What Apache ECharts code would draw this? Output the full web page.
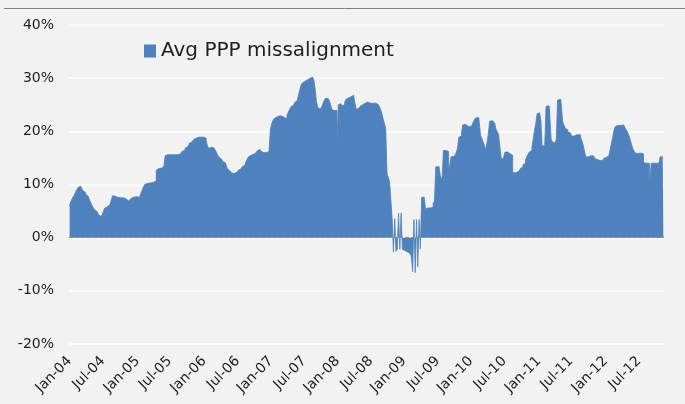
<!DOCTYPE html>
<html>
<head>
<meta charset="utf-8">
<script src="https://cdn.jsdelivr.net/npm/echarts@6/dist/echarts.min.js"></script>
<style>
  html, body { margin: 0; padding: 0; background: #f2f2f2; }
  #chart { width: 685px; height: 404px; }
</style>
</head>
<body>
<div id="chart"></div>
<script>
// Weekly average PPP misalignment (%), one value per Friday starting 2 Jan 2004
const SERIES_NAME = 'Avg PPP missalignment';
const FIRST_WEEK = Date.UTC(2004, 0, 2);

const w2004 = [6.0, 6.5, 7.1, 7.6, 8.0, 8.5, 9.0, 9.4, 9.7, 9.7, 9.2, 8.8, 8.5, 8.1, 7.8, 7.5, 7.1, 6.6, 6.0, 5.6,
  5.2, 4.9, 4.6, 4.3, 4.0, 3.8, 4.4, 5.1, 5.6, 5.8, 6.0, 6.1, 6.3, 6.4, 7.9, 8.0, 7.8, 7.6, 7.5, 7.5,
  7.5, 7.5, 7.5, 7.4, 7.3, 7.0, 6.9, 7.0, 7.3, 7.6, 7.7, 7.7, 7.7];
const w2005 = [7.6, 7.6, 7.5, 8.3, 8.9, 9.5, 10.0, 10.2, 10.3, 10.3, 10.3, 10.4, 10.4, 10.5, 10.7, 12.7, 13.0, 13.1, 13.1, 13.1,
  13.2, 13.5, 15.4, 15.6, 15.6, 15.6, 15.6, 15.6, 15.6, 15.6, 15.6, 15.6, 15.7, 15.8, 16.0, 16.2, 16.4, 16.6, 16.9, 17.2,
  17.5, 17.8, 18.0, 18.2, 18.4, 18.7, 18.9, 18.9, 18.9, 18.9, 18.9, 18.9];
const w2006 = [18.9, 18.7, 18.2, 17.2, 16.8, 17.0, 17.2, 17.1, 16.9, 16.5, 16.0, 15.5, 15.1, 14.8, 14.5, 14.3, 14.1, 13.8, 13.3, 12.8,
  12.5, 12.3, 12.1, 12.0, 12.1, 12.3, 12.5, 12.7, 12.9, 13.1, 13.3, 13.6, 13.9, 14.3, 14.8, 15.2, 15.5, 15.6, 15.7, 15.8,
  16.0, 16.2, 16.4, 16.6, 16.4, 16.2, 16.0, 15.9, 15.9, 16.0, 16.2, 16.2];
const w2007 = [20.3, 21.4, 22.0, 22.4, 22.7, 22.9, 22.9, 23.0, 22.9, 22.9, 22.8, 22.6, 22.4, 23.0, 23.6, 24.1, 24.6, 24.9, 25.2, 25.4,
  25.5, 25.8, 26.9, 27.8, 28.7, 29.1, 29.4, 29.5, 29.7, 29.8, 30.0, 30.2, 30.3, 30.2, 29.6, 27.8, 25.6, 24.5, 24.2, 24.3,
  24.6, 25.2, 25.8, 26.2, 26.3, 26.2, 25.8, 25.0, 24.1, 23.9, 23.9, 23.9];
const w2008 = [18.0, 25.0, 25.1, 25.2, 24.8, 25.0, 25.5, 26.0, 26.3, 26.3, 26.4, 26.5, 26.8, 26.5, 25.2, 24.2, 24.1, 24.3, 24.7, 25.0,
  25.1, 25.3, 25.4, 25.5, 25.5, 25.4, 25.3, 25.3, 25.3, 25.4, 25.3, 25.1, 25.0, 24.7, 24.1, 23.3, 22.3, 21.5, 20.5, 12.0,
  11.3, 10.6, 10.5, 3.6, -2.7, 3.6, -2.6, -2.2, 4.6, -2.2, 4.6, -2.2];
const w2009 = [-2.3, -2.4, -2.5, -2.7, -3.0, -3.2, -3.6, -6.4, 3.4, -6.6, 3.4, -5.5, 3.4, -2.1, 7.6, 7.6, 7.5, 5.4, 5.6, 5.6,
  5.6, 5.6, 5.8, 6.5, 6.9, 13.3, 13.4, 13.4, 13.2, 11.0, 11.5, 16.4, 16.5, 16.4, 16.2, 12.5, 12.6, 15.2, 15.3, 15.3,
  15.4, 16.0, 16.9, 18.9, 19.1, 19.5, 21.2, 21.3, 21.3, 21.0, 20.9, 20.9];
const w2010 = [21.0, 21.2, 21.6, 22.1, 22.5, 22.6, 22.6, 21.5, 19.2, 18.6, 18.0, 17.3, 16.6, 18.0, 19.5, 21.9, 22.0, 22.0, 22.0, 21.5,
  20.4, 19.9, 19.4, 19.3, 15.0, 14.8, 15.2, 16.1, 16.1, 16.1, 16.0, 15.8, 15.5, 12.3, 12.2, 12.2, 12.3, 12.5, 12.8, 13.0,
  13.3, 13.7, 14.0, 14.6, 15.2, 15.7, 16.1, 16.4, 17.0, 18.5, 20.1, 21.5, 23.3];
const w2011 = [23.5, 23.5, 22.0, 17.2, 17.4, 17.6, 24.7, 24.8, 24.8, 24.6, 18.5, 18.0, 17.8, 17.8, 18.5, 25.9, 26.0, 26.0, 25.8, 21.8,
  21.2, 20.6, 20.3, 19.9, 19.7, 19.4, 19.1, 19.1, 19.3, 19.4, 19.4, 19.4, 19.3, 18.9, 18.2, 17.4, 16.3, 15.2, 15.2, 15.3,
  15.4, 15.4, 15.4, 15.1, 14.9, 14.7, 14.6, 14.5, 14.4, 14.5, 14.7, 14.9];
const w2012 = [15.0, 15.1, 15.2, 15.4, 16.5, 17.8, 18.9, 20.2, 20.9, 21.0, 21.1, 21.1, 21.1, 21.2, 21.2, 21.0, 20.5, 20.1, 19.6, 19.0,
  18.1, 17.3, 16.6, 16.1, 15.8, 15.8, 15.9, 15.9, 15.9, 15.8, 14.1, 14.0, 14.0, 14.0, 14.0, 10.6, 14.0, 14.0, 14.0, 14.0,
  14.0, 14.0, 14.0, 15.2, 15.3, 15.2];

// Axis tick labels
const MONTH_NAMES = ['Jan', 'Feb', 'Mar', 'Apr', 'May', 'Jun', 'Jul', 'Aug', 'Sep', 'Oct', 'Nov', 'Dec'];
const LABEL_MONTHS = [0, 6];          // Jan and Jul
const Y_TICKS = { min: -20, max: 40, step: 10 };

const values = [].concat(w2004, w2005, w2006, w2007, w2008, w2009, w2010, w2011, w2012);
const weeks = values.map((_, i) => {
  const d = new Date(FIRST_WEEK + i * 7 * 86400000);
  return d.toISOString().slice(0, 10);
});

function parseDay(s) { return new Date(s + 'T00:00:00Z'); }

const chart = echarts.init(document.getElementById('chart'), null, { renderer: 'canvas' });
const FONT = 'DejaVu Sans';
const BAR_BLUE = '#4f81bd';

chart.setOption({
  backgroundColor: '#f2f2f2',
  animation: false,
  textStyle: { fontFamily: FONT },
  graphic: [{
    type: 'line',
    shape: { x1: 4, y1: 8.5, x2: 685, y2: 8.5 },
    style: { stroke: '#7f7f7f', lineWidth: 1 },
    silent: true
  }],
  legend: {
    left: 139,
    top: 36,
    itemWidth: 12,
    itemHeight: 13,
    icon: 'rect',
    textStyle: { fontFamily: FONT, fontSize: 20, color: '#1e1e1e' },
    data: [{ name: SERIES_NAME, icon: 'rect', itemStyle: { color: BAR_BLUE } }]
  },
  grid: { left: 69, right: 21, top: 25, bottom: 60, containLabel: false },
  xAxis: {
    type: 'category',
    data: weeks,
    boundaryGap: true,
    axisLine: { show: false, onZero: false },
    axisTick: { show: false },
    splitLine: { show: false },
    axisLabel: {
      rotate: 45,
      margin: 15,
      fontFamily: FONT,
      fontSize: 14,
      color: '#1e1e1e',
      interval: (idx, val) => {
        const d = parseDay(val);
        return LABEL_MONTHS.includes(d.getUTCMonth()) && d.getUTCDate() <= 7;
      },
      formatter: (val) => {
        const d = parseDay(val);
        return MONTH_NAMES[d.getUTCMonth()] + '-' + String(d.getUTCFullYear()).slice(2);
      }
    }
  },
  yAxis: {
    type: 'value',
    min: Y_TICKS.min,
    max: Y_TICKS.max,
    interval: Y_TICKS.step,
    axisLine: { show: false },
    axisTick: { show: false },
    splitLine: { lineStyle: { color: '#ffffff', width: 1.5 } },
    axisLabel: {
      margin: 15,
      fontFamily: FONT,
      fontSize: 14,
      color: '#1e1e1e',
      formatter: '{value}%'
    }
  },
  series: [{
    // weekly columns with no gap, drawn as one stepped filled body
    name: SERIES_NAME,
    type: 'line',
    step: 'middle',
    data: values,
    showSymbol: false,
    symbol: 'none',
    lineStyle: { width: 0.8, color: BAR_BLUE },
    areaStyle: { color: BAR_BLUE, opacity: 1, origin: 0 },
    itemStyle: { color: BAR_BLUE },
    emphasis: { disabled: true },
    markLine: {
      silent: true,
      symbol: 'none',
      label: { show: false },
      lineStyle: { color: '#8c8c8c', width: 1.2, type: [4, 2] },
      data: [{ yAxis: 0 }]
    }
  }]
});
</script>
</body>
</html>
